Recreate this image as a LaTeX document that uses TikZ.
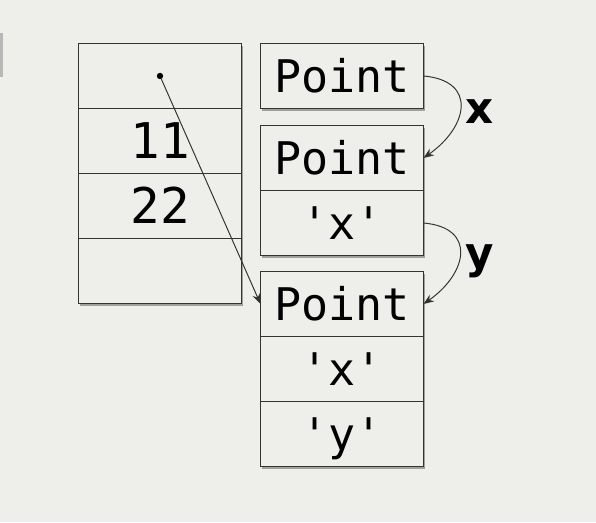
\documentclass[tikz,border=0pt]{standalone}
\usepackage{fontspec}
\setmonofont{DejaVu Sans Mono}
\setsansfont{DejaVu Sans}
\usepackage{tikz}
\usetikzlibrary{positioning, arrows.meta, shadows}
\definecolor{slidebg}{RGB}{238,238,235}
\tikzset{
  cell/.style={draw=black!80, fill=slidebg, line width=1.3pt, inner sep=0pt, outer sep=0pt,
               minimum width=4.075cm, minimum height=1.625cm, text height=23pt, text depth=0pt,
               font=\ttfamily\fontsize{32}{36}\selectfont, text=black,
               drop shadow={shadow xshift=0.8pt, shadow yshift=-1.6pt, opacity=0.7}},
  num/.style={cell, text height=25pt, font=\ttfamily\fontsize{35}{38}\selectfont},
  ptr/.style={-{Stealth[length=2.6mm, width=2mm]}, line width=0.7pt, black!80},
  lbl/.style={font=\sffamily\bfseries\fontsize{31}{34}\selectfont, text=black, inner sep=2pt},
  dot/.style={circle, fill=black, inner sep=0pt, minimum size=1.6mm}
}

\begin{document}
\begin{tikzpicture}[node distance=0pt]
  \fill[slidebg] (0,0) rectangle (14.9,13.05);
  \useasboundingbox (0,0) rectangle (14.9,13.05);
  \fill[black!28] (0,11.12) rectangle (0.07,12.22);
  % frame stack
  \node[num] (s0) at (4.0,11.15) {};
  \node[num, below=of s0] (s1) {11};
  \node[num, below=of s1] (s2) {22};
  \node[num, below=of s2] (s3) {};
  \node[dot] (ref) at (s0.center) {};
  % heap objects
  \node[cell] (p1) at (8.55,11.15) {Point};
  \node[cell] (p2) at (8.55,9.1) {Point};
  \node[cell, below=of p2] (p2x) {'x'};
  \node[cell] (p3) at (8.55,5.45) {Point};
  \node[cell, below=of p3] (p3x) {'x'};
  \node[cell, below=of p3x] (p3y) {'y'};
  % links
  \draw[ptr] (ref) -- (p3.west);
  \draw[ptr] (p1.east) to[out=-5, in=35, looseness=1.7] node[lbl, right, pos=0.55, xshift=2pt]{x} (p2.east);
  \draw[ptr] (p2x.east) to[out=-5, in=35, looseness=1.7] node[lbl, right, pos=0.55, xshift=2pt, yshift=-2pt]{y} (p3.east);
\end{tikzpicture}
\end{document}
